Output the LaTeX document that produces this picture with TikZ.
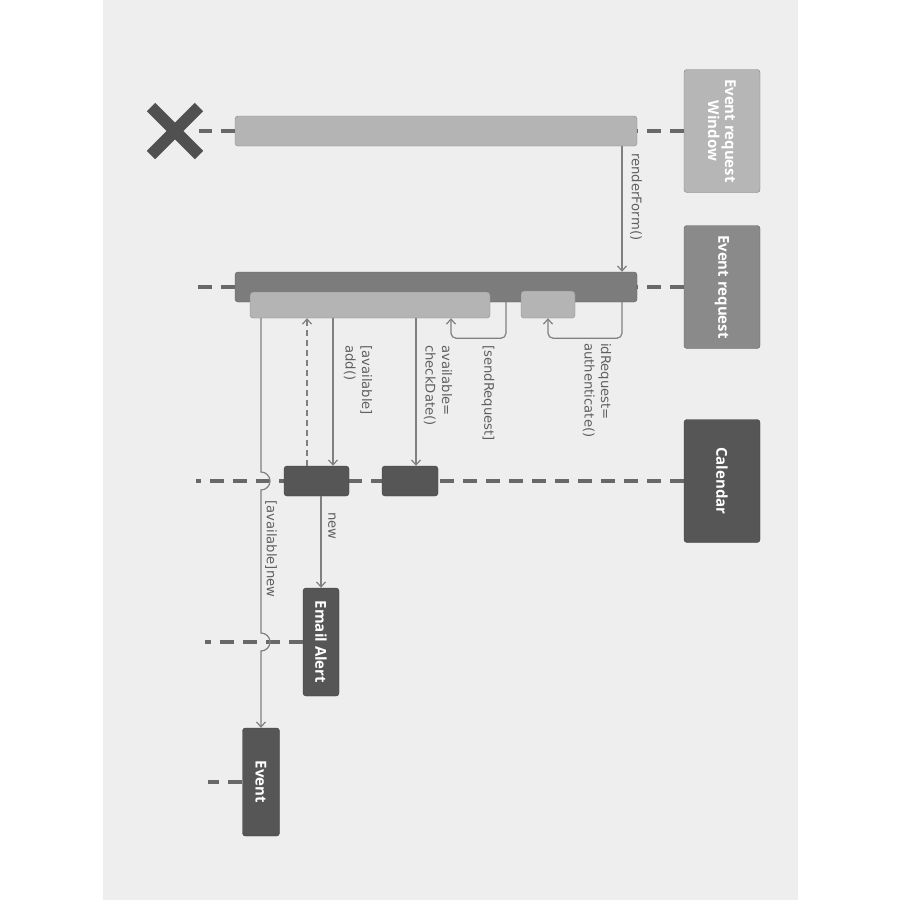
\documentclass[tikz,border=0pt]{standalone}
\usepackage{fontspec}
\setmainfont{DejaVu Sans}
\newfontfamily\hdrfont{Open Sans}
\usetikzlibrary{calc}
\usetikzlibrary{arrows.meta}
\definecolor{pagebg}{RGB}{238,238,238}
\definecolor{hdrlight}{RGB}{182,182,182}
\definecolor{hdrmid}{RGB}{138,138,138}
\definecolor{hdrdark}{RGB}{86,86,86}
\definecolor{barlight}{RGB}{180,180,180}
\definecolor{barmid}{RGB}{124,124,124}
\definecolor{msgline}{RGB}{128,128,128}
\definecolor{lifeline}{RGB}{104,104,104}
\definecolor{labeltext}{RGB}{96,96,96}
\definecolor{xdark}{RGB}{80,80,80}
\tikzset{
  hdr/.style={draw=#1!70!black, fill=#1, rounded corners=3pt, rotate=-90, text=white,
    font=\hdrfont\bfseries\fontsize{15}{17}\selectfont, align=center, inner sep=2pt},
  actbar/.style={draw=#1!75!black, fill=#1, rounded corners=3pt, inner sep=0pt},
  life/.style={lifeline, line width=3.5pt, dash pattern=on 14pt off 9pt},
  msg/.style={msgline, line width=1.2pt, -{Straight Barb[length=5pt,width=9pt]}},
  msglbl/.style={rotate=-90, anchor=west, align=left, text=labeltext,
    font=\fontsize{13.2}{16.5}\selectfont, inner sep=0pt},
}

\begin{document}
\begin{tikzpicture}[x=1pt, y=-1pt]
        \useasboundingbox (0,0) rectangle (900,900);
        \fill[white] (0,0) rectangle (900,900);
        \fill[pagebg] (103,0) rectangle (798,900);
        %lifeline heads
        \node[hdr=hdrlight, minimum width=123pt, minimum height=76pt] (win) at (722,131) {Event request\\Window};
        \node[hdr=hdrmid, minimum width=123pt, minimum height=76pt] (req) at (722,287) {Event request};
        \node[hdr=hdrdark, minimum width=123pt, minimum height=76pt] (cal) at (722,481) {Calendar};
        \node[hdr=hdrdark, minimum width=108pt, minimum height=36pt] (mail) at (321,642) {Email Alert};
        \node[hdr=hdrdark, minimum width=108pt, minimum height=37pt] (evt) at (261,782) {Event};
        %activations
        \node[actbar=barlight, minimum width=402pt, minimum height=30pt] (wbar) at (436,131) {};
        \node[actbar=barmid, minimum width=402pt, minimum height=30pt] (rbar) at (436,287) {};
        \node[actbar=barlight, minimum width=240pt, minimum height=26pt] (act1) at (370,305) {};
        \node[actbar=barlight, minimum width=54pt, minimum height=27pt] (act2) at (548,304.5) {};
        %lifelines
        \coordinate (xend) at (199,131);
        \coordinate (rend) at (198,287);
        \coordinate (calend) at (196,481);
        \coordinate (mailend) at (205,642);
        \coordinate (evtend) at (208,782);
        \foreach \a/\b in {win/wbar, wbar/xend, req/rbar, rbar/rend, cal/calend, mail/mailend, evt/evtend}
            \draw[life] (\a) -- (\b);
        \node[actbar=hdrdark, minimum width=65pt, minimum height=30pt] (cact1) at (316.5,481) {};
        \node[actbar=hdrdark, minimum width=56pt, minimum height=30pt] (cact2) at (410,481) {};
        %destroy mark
        \coordinate (xc) at (175,131);
        \draw[xdark, line width=12pt] ($(xc)+(-24,-24)$) -- ($(xc)+(24,24)$)
            ($(xc)+(-24,24)$) -- ($(xc)+(24,-24)$);
        %messages
        \coordinate (mr) at (622,0);
        \coordinate (ms) at (506,0);
        \coordinate (ms2) at (451,0);
        \coordinate (mc) at (416,0);
        \coordinate (ma) at (333,0);
        \coordinate (mret) at (307,0);
        \draw[msg] (wbar.south -| mr) -- (rbar.north -| mr);
        \draw[msg, rounded corners=5pt] (rbar.south -| mr) -- ++(0,36) -| (act2.south);
        \draw[msg, rounded corners=5pt] (rbar.south -| ms) -- ++(0,36) -| (act1.south -| ms2);
        \draw[msg] (act1.south -| mc) -- (cact2.north -| mc);
        \draw[msg] (act1.south -| ma) -- (cact1.north -| ma);
        \draw[msg, dash pattern=on 6pt off 4pt] (cact1.north -| mret) -- (act1.south -| mret);
        \draw[msg] (cact1.south -| mail) -- (mail.west);
        \draw[msg] (act1.south -| evt) -- ($(calend -| evt)+(0,-9)$) arc[start angle=90, end angle=-90, radius=9pt]
            -- ($(mailend -| evt)+(0,-9)$) arc[start angle=90, end angle=-90, radius=9pt] -- (evt.west);
        %labels
        \node[msglbl] (lrender) at (636,153) {renderForm()};
        \node[msglbl] (lauth) at (597,343) {idRequest=\\authenticate()};
        \node[msglbl] (lsend) at (488,345) {[sendRequest]};
        \node[msglbl] (lcheck) at (438,345) {available=\\checkDate()};
        \node[msglbl] (ladd) at (358,345) {[available]\\add()};
        \node[msglbl] (lnew) at (332,512) {new};
        \node[msglbl] (lavail) at (271,500) {[available]new};
\end{tikzpicture}
\end{document}
